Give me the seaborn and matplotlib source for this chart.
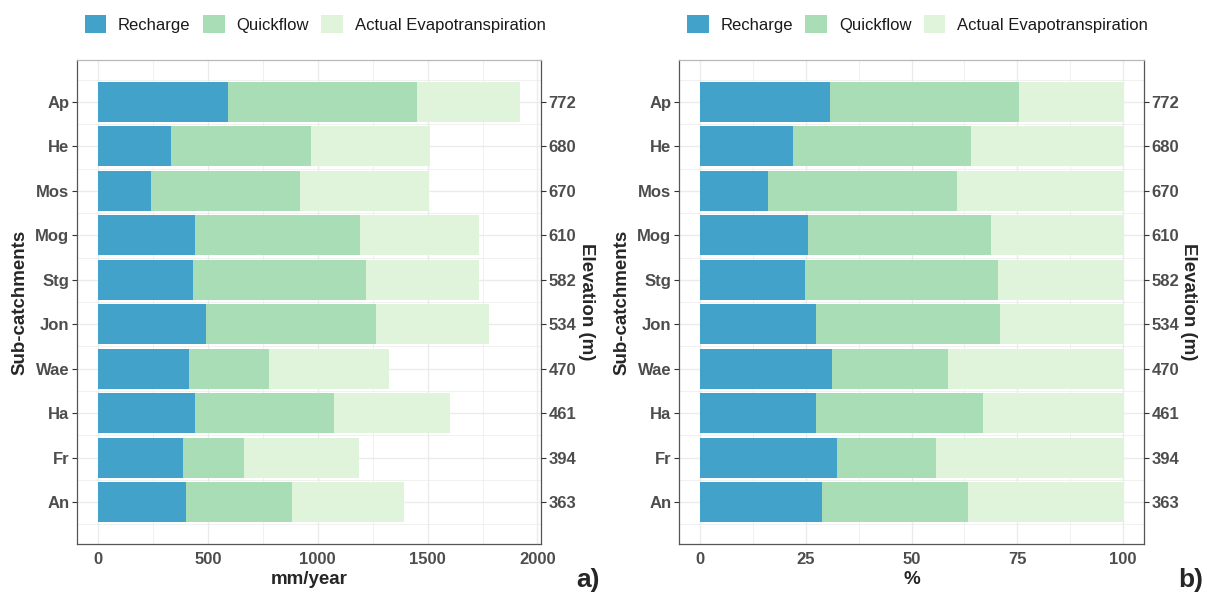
import pandas as pd
import matplotlib
matplotlib.use('Agg')
import matplotlib.pyplot as plt
from matplotlib.patches import Patch
from matplotlib.ticker import MultipleLocator
import seaborn as sns

# Water balance per sub-catchment (mm/year), top to bottom
catchments = ['Ap', 'He', 'Mos', 'Mog', 'Stg', 'Jon', 'Wae', 'Ha', 'Fr', 'An']
elevation = [772, 680, 670, 610, 582, 534, 470, 461, 394, 363]
recharge = [591, 332, 243, 443, 430, 490, 414, 440, 386, 402]
quickflow = [859, 637, 674, 750, 789, 774, 362, 633, 278, 480]
aet = [470, 542, 591, 541, 513, 517, 547, 529, 524, 511]

components = ['Recharge', 'Quickflow', 'Actual Evapotranspiration']
colors = ['#43A2CA', '#A8DDB5', '#E0F3DB']

sns.set_style('white')
plt.rcParams['font.family'] = ['Liberation Sans', 'DejaVu Sans']

df = pd.DataFrame({'catchment': catchments, 'Recharge': recharge,
                   'Quickflow': quickflow, 'Actual Evapotranspiration': aet})
total = df[components].sum(axis=1)
pct = df.copy()
for c in components:
    pct[c] = df[c] / total * 100

W, H = 1207, 592
fig = plt.figure(figsize=(W / 100, H / 100), dpi=100)
ax_a = fig.add_axes([77 / W, 1 - 544 / H, 464 / W, 484 / H])
ax_b = fig.add_axes([679 / W, 1 - 544 / H, 465 / W, 484 / H])

GRID = '#EBEBEB'
TICKC = '#4D4D4D'


def draw(ax, data, xmax, xticks, minor, xlabel, tag):
    # stacked bars as overlaid cumulative sums
    cum = data[components].cumsum(axis=1)
    for c, col in reversed(list(zip(components, colors))):
        sns.barplot(x=cum[c], y=data['catchment'], order=catchments, color=col,
                    orient='h', width=0.9, saturation=1, linewidth=0,
                    errorbar=None, ax=ax)
    ax.set_xlim(-0.05 * xmax, 1.05 * xmax)
    ax.set_ylim(len(catchments) - 1 + 0.945, -0.945)
    ax.set_xticks(xticks)
    ax.xaxis.set_minor_locator(MultipleLocator(minor))
    ax.yaxis.set_minor_locator(MultipleLocator(1))
    ax.set_yticks(range(len(catchments)), minor=False)
    ax.set_yticks([i + 0.5 for i in range(-1, len(catchments))], minor=True)
    ax.set_axisbelow(True)
    ax.grid(which='major', color=GRID, linewidth=1.0)
    ax.grid(which='minor', color=GRID, linewidth=0.5)
    ax.set_xlabel('')
    ax.set_ylabel('')
    ax.tick_params(which='major', length=3.5, width=0.8, color='#333333',
                   labelcolor=TICKC, labelsize=12, pad=2)
    ax.tick_params(which='minor', length=0)
    for lab in ax.get_xticklabels() + ax.get_yticklabels():
        lab.set_fontweight('bold')
    for s in ['left', 'bottom', 'right']:
        ax.spines[s].set_color('#555555')
        ax.spines[s].set_linewidth(0.9)
    ax.spines['top'].set_color('#B8B8B8')
    ax.spines['top'].set_linewidth(0.9)

    tw = ax.twinx()
    tw.set_ylim(ax.get_ylim())
    tw.set_yticks(range(len(catchments)))
    tw.set_yticklabels(elevation)
    tw.tick_params(length=3.5, width=0.8, color='#333333', labelcolor=TICKC,
                   labelsize=12, pad=2)
    for lab in tw.get_yticklabels():
        lab.set_fontweight('bold')
    for s in tw.spines.values():
        s.set_visible(False)

    handles = [Patch(facecolor=c, edgecolor='none', label=l)
               for l, c in zip(components, colors)]
    ax.legend(handles=handles, loc='center', bbox_to_anchor=(0.513, 1.074),
              ncol=3, frameon=False, fontsize=12, handlelength=1.3,
              handleheight=1.3, handletextpad=0.7, columnspacing=0.75,
              labelcolor='#1A1A1A')

    pos = ax.get_position()
    cx = (pos.x0 + pos.x1) / 2
    fig.text(cx, 1 - 579 / H, xlabel, ha='center', va='center',
             fontsize=13.5, fontweight='bold')
    fig.text(pos.x0 - 57 / W, (pos.y0 + pos.y1) / 2, 'Sub-catchments',
             rotation=90, ha='center', va='center', fontsize=13.5,
             fontweight='bold')
    fig.text(pos.x1 + 45 / W, (pos.y0 + pos.y1) / 2, 'Elevation (m)',
             rotation=270, ha='center', va='center', fontsize=13.5,
             fontweight='bold')
    fig.text(pos.x1 + 47 / W, 1 - 580 / H, tag, ha='center', va='center',
             fontsize=19, fontweight='bold')


draw(ax_a, df, total.max(), [0, 500, 1000, 1500, 2000], 250, 'mm/year', 'a)')
draw(ax_b, pct, 100, [0, 25, 50, 75, 100], 12.5, '%', 'b)')

fig.savefig('out.png', dpi=100)
